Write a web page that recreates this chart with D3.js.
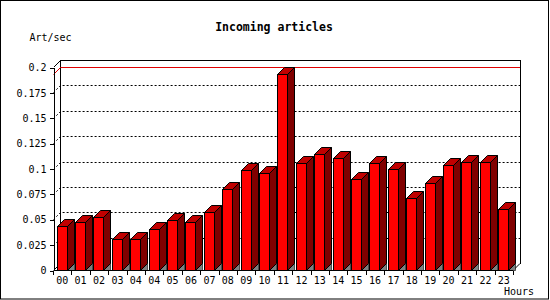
<!DOCTYPE html>
<html>
<head>
<meta charset="utf-8">
<script src="https://cdn.jsdelivr.net/npm/d3@7"></script>
<style>
  html, body { margin: 0; padding: 0; background: #fff; }
  svg { display: block; }
  text { font-family: "DejaVu Sans Mono", "Liberation Mono", monospace; fill: #000; }
</style>
</head>
<body>
<svg id="chart" width="550" height="300"></svg>
<script>
// ---- data ----
const hourLabels = ["00","01","02","03","04","04","05","06","07","08","09","10","11",
                    "12","13","14","15","16","17","18","19","20","21","22","23"];
const artPerSec = [0.043,0.047,0.052,0.031,0.031,0.040,0.049,0.047,0.057,0.0795,0.099,0.0955,0.193,
                   0.105,0.114,0.110,0.0894,0.105,0.100,0.0706,0.0854,0.103,0.106,0.106,0.0598];
const yTicks = [0, 0.025, 0.05, 0.075, 0.1, 0.125, 0.15, 0.175, 0.2];
const titleText = "Incoming articles";
const yTitle = "Art/sec";
const xTitle = "Hours";

(function () {
// ---- layout ----
const svg = d3.select("#chart");
const D = 7;                 // 3D depth offset
const pLeft = 53, pRight = 512.5, pBottom = 270, pTop = 67;
const idx = d3.range(hourLabels.length);

const y = d3.scaleLinear().domain([0, 0.2]).range([pBottom, pTop]);
const x = d3.scaleBand().domain(idx).range([52.5, pRight]).padding(0);
const xb = d3.scaleLinear().domain([0, hourLabels.length]).range([52.5, pRight]);

// outer frame
svg.append("rect").attr("x", 0).attr("y", 0).attr("width", 550).attr("height", 300).attr("fill", "#fff");
svg.append("rect").attr("x", 0.5).attr("y", 0.5).attr("width", 548).attr("height", 298.5)
  .attr("fill", "none").attr("stroke", "#000");

// title & axis titles
svg.append("text").attr("x", 274).attr("y", 31).attr("text-anchor", "middle")
  .attr("font-size", "11.5px").attr("font-weight", "bold").text(titleText);
svg.append("text").attr("x", 29.5).attr("y", 40.5).attr("font-size", "10px").text(yTitle);
svg.append("text").attr("x", 504).attr("y", 295).attr("font-size", "10px").text(xTitle);

const g = svg.append("g").attr("shape-rendering", "crispEdges");

// back wall
const bx0 = pLeft + D + 0.5, bx1 = pRight + D + 0.5, by0 = y(0.2) - D + 0.5, by1 = pBottom - D + 0.5;
g.append("path").attr("fill", "none").attr("stroke", "#000")
  .attr("d", `M${pLeft+0.5},${y(0.2)+0.5} L${bx0},${by0} L${bx1},${by0} L${bx1},${by1}`);
g.append("line").attr("x1", bx0).attr("x2", bx0).attr("y1", by0).attr("y2", by1).attr("stroke", "#000");

// dotted grid on back wall
const gridVals = yTicks.filter(v => v > 0 && v < 0.2);
gridVals.forEach(v => {
  const yy = Math.round(y(v)) + 0.5;
  g.append("path").attr("fill", "none").attr("stroke", "#000").attr("stroke-dasharray", "2,2")
    .attr("shape-rendering", "auto")
    .attr("d", `M${pLeft+0.5},${yy} L${bx0},${yy - D} L${bx1},${yy - D}`);
});

// max line (red)
const maxV = d3.max(artPerSec);
const my = Math.round(y(maxV)) + 0.5;
g.append("path").attr("fill", "none").attr("stroke", "#e00000")
  .attr("shape-rendering", "auto")
  .attr("d", `M${pLeft+0.5},${my} L${bx0},${my - D} L${bx1},${my - D}`);

// floor edges
g.append("path").attr("fill", "none").attr("stroke", "#000").attr("shape-rendering", "auto")
  .attr("d", `M${pLeft+0.5},${pBottom+0.5} L${bx0},${by1}`);
g.append("path").attr("fill", "none").attr("stroke", "#000").attr("shape-rendering", "auto")
  .attr("d", `M${pRight+0.5},${pBottom+0.5} L${bx1},${by1}`);

// bars
const fw = 10;
const bars = svg.append("g");
idx.forEach(i => {
  const v = artPerSec[i];
  const x0 = Math.round(x(i) + 4) + 0.5;
  const x1 = x0 + fw;
  const yt = Math.round(y(v)) + 0.5;
  const yb = pBottom + 0.5;
  // shadow triangle on floor
  bars.append("path").attr("fill", "#808080").attr("stroke", "#000").attr("stroke-width", 0.6)
    .attr("d", `M${x1},${yb} L${x1 + D},${yb - D} L${x1 + D},${yb} Z`);
  // side
  bars.append("path").attr("fill", "#800000").attr("stroke", "#000")
    .attr("d", `M${x1},${yt} L${x1 + D},${yt - D} L${x1 + D},${yb - D} L${x1},${yb} Z`);
  // top
  bars.append("path").attr("fill", "#c00000").attr("stroke", "#000")
    .attr("d", `M${x0},${yt} L${x0 + D},${yt - D} L${x1 + D},${yt - D} L${x1},${yt} Z`);
  // front
  bars.append("rect").attr("x", x0).attr("y", yt).attr("width", fw).attr("height", yb - yt)
    .attr("fill", "#ff0000").attr("stroke", "#000").attr("shape-rendering", "crispEdges");
});

// y axis (front)
const yAxis = d3.axisLeft(y).tickValues(yTicks).tickSize(4).tickSizeOuter(0).tickPadding(3)
  .tickFormat(d => String(d));
const ya = svg.append("g").attr("transform", `translate(${pLeft + 0.5},0.5)`)
  .attr("shape-rendering", "crispEdges").call(yAxis);
ya.selectAll("text").attr("font-size", "10px").attr("font-family", "DejaVu Sans Mono").attr("fill", "#000");
ya.selectAll("path,line").attr("stroke", "#000");

// x axis boundary ticks
const xTickAxis = d3.axisBottom(xb).tickValues(d3.range(hourLabels.length + 1)).tickSize(4)
  .tickSizeOuter(0).tickFormat("");
const xa = svg.append("g").attr("transform", `translate(0.5,${pBottom + 0.5})`)
  .attr("shape-rendering", "crispEdges").call(xTickAxis);
xa.selectAll("path,line").attr("stroke", "#000");
xa.select(".domain").attr("d", `M${pLeft},0H${pRight}`);

// x labels
const xLab = d3.axisBottom(x).tickSize(0).tickPadding(7).tickFormat(i => hourLabels[i]);
const xl = svg.append("g").attr("transform", `translate(0.5,${pBottom})`).call(xLab);
xl.select(".domain").remove();
xl.selectAll("text").attr("font-size", "10px").attr("font-family", "DejaVu Sans Mono").attr("fill", "#000");
})();
</script>
</body>
</html>
